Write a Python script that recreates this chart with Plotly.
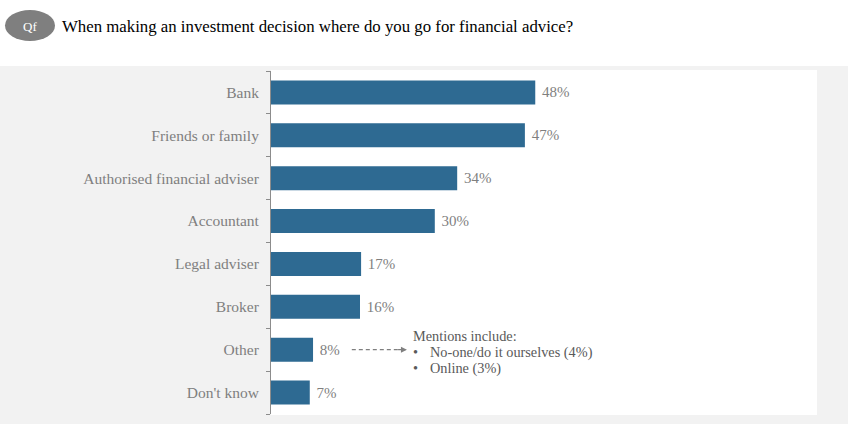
import plotly.graph_objects as go

categories = ["Bank", "Friends or family", "Authorised financial adviser", "Accountant",
              "Legal adviser", "Broker", "Other", "Don't know"]
values = [48.4, 46.5, 34.1, 30.0, 16.5, 16.3, 7.7, 7.1]
labels = ["48%", "47%", "34%", "30%", "17%", "16%", "8%", "7%"]
title_text = "When making an investment decision where do you go for financial advice?"
note_lines = ["Mentions include:", "No-one/do it ourselves (4%)", "Online (3%)"]

W, H = 848, 435
L, R, T, B = 271, 31, 71, 21
pw, ph = W - L - R, H - T - B

def px(x):
    return (x - L) / pw

def py(y):
    return (H - B - y) / ph

BAR = "#2e6a92"
GREY_TXT = "#7f7f7f"
NOTE_TXT = "#595959"
FONT = "Liberation Serif"

fig = go.Figure(go.Bar(
    x=values, y=categories, orientation="h",
    marker=dict(color=BAR, line=dict(width=0)),
    text=[" " + t for t in labels], textposition="outside",
    textfont=dict(family=FONT, size=15, color=GREY_TXT),
    cliponaxis=False, hoverinfo="skip",
))

shapes = [
    dict(type="rect", xref="paper", yref="paper", x0=px(0), x1=px(W), y0=py(424), y1=py(66),
         fillcolor="#f2f2f2", line=dict(width=0), layer="below"),
    dict(type="rect", xref="paper", yref="paper", x0=0, x1=1, y0=py(415), y1=py(70),
         fillcolor="#ffffff", line=dict(width=0), layer="below"),
    dict(type="circle", xref="paper", yref="paper", x0=px(5), x1=px(55), y0=py(41), y1=py(10),
         fillcolor="#7f7f7f", line=dict(width=0)),
    dict(type="line", xref="x", yref="y", x0=14.8, x1=23.6, y0="Other", y1="Other",
         line=dict(color="#7f7f7f", width=1.2, dash="4px,3px")),
]

note_font = dict(family=FONT, size=14.3, color=NOTE_TXT)
annotations = [
    dict(xref="paper", yref="paper", x=px(30), y=py(26), text="Qf", showarrow=False,
         font=dict(family=FONT, size=13, color="#ffffff"), xanchor="center", yanchor="middle"),
    dict(xref="paper", yref="paper", x=px(60), y=py(26), text=title_text, showarrow=False,
         font=dict(family=FONT, size=16.8, color="#000000"), xanchor="left", yanchor="middle"),
    dict(xref="x", yref="y", x=24.9, y="Other", ax=23.0, ay="Other", axref="x", ayref="y",
         text="", showarrow=True, arrowhead=2, arrowsize=1, arrowwidth=1.2, arrowcolor="#7f7f7f"),
    dict(xref="x", yref="paper", x=25.6, y=py(336), text=note_lines[0], showarrow=False,
         font=note_font, xanchor="left", yanchor="middle"),
    dict(xref="x", yref="paper", x=25.6, y=py(352), text="•", showarrow=False,
         font=note_font, xanchor="left", yanchor="middle"),
    dict(xref="x", yref="paper", x=28.8, y=py(352), text=note_lines[1], showarrow=False,
         font=note_font, xanchor="left", yanchor="middle"),
    dict(xref="x", yref="paper", x=25.6, y=py(368), text="•", showarrow=False,
         font=note_font, xanchor="left", yanchor="middle"),
    dict(xref="x", yref="paper", x=28.8, y=py(368), text=note_lines[2], showarrow=False,
         font=note_font, xanchor="left", yanchor="middle"),
]

fig.update_layout(
    width=W, height=H,
    margin=dict(l=L, r=R, t=T, b=B, autoexpand=False),
    paper_bgcolor="#ffffff", plot_bgcolor="rgba(0,0,0,0)",
    showlegend=False, bargap=0.44,
    shapes=shapes, annotations=annotations,
    font=dict(family=FONT),
)
fig.update_xaxes(range=[0, 100], visible=False, fixedrange=True)
fig.update_yaxes(
    categoryorder="array", categoryarray=categories[::-1],
    showline=True, linecolor="#8c8c8c", linewidth=1,
    ticks="outside", tickson="boundaries", ticklen=4, tickcolor="#8c8c8c",
    ticklabelstandoff=8,
    tickfont=dict(family=FONT, size=15.5, color=GREY_TXT),
    showgrid=False, zeroline=False, fixedrange=True,
)

fig.write_html(
    "out.html",
    config={"displayModeBar": False},
    post_script="document.body.style.margin='0';document.body.style.overflow='hidden';",
)
